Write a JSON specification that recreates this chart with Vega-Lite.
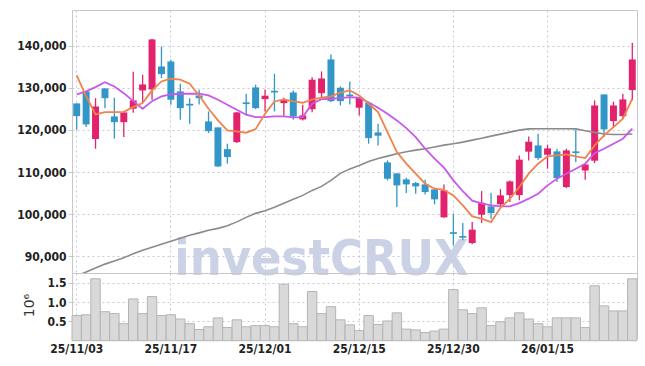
{
  "$schema": "https://vega.github.io/schema/vega-lite/v6.json",
  "padding": {"left": 5, "top": 9, "right": 9, "bottom": 5},
  "background": "white",
  "spacing": 0,
  "bounds": "flush",
  "config": {
    "font": "DejaVu Sans Condensed, Roboto",
    "view": {"stroke": "#c8c8c8"},
    "axis": {
      "labelFont": "DejaVu Sans Condensed, Roboto",
      "labelFontSize": 12,
      "labelFontWeight": "bold",
      "labelColor": "#222222",
      "gridColor": "#c6c9dc",
      "gridDash": [2, 3],
      "gridWidth": 1,
      "domainColor": "#c8c8c8",
      "tickColor": "#c8c8c8",
      "tickSize": 4,
      "labelPadding": 2
    }
  },
  "data": {
    "values": [
      {"d": "25/11/03", "o": 126300, "h": 126300, "l": 120050, "c": 123280, "v": 0.65, "ma5": 132950, "ma10": 128430, "ma60": 85300},
      {"d": "25/11/04", "o": 129150, "h": 129300, "l": 120670, "c": 121310, "v": 0.67, "ma5": 128000, "ma10": 129150, "ma60": 86230},
      {"d": "25/11/05", "o": 117820, "h": 127550, "l": 115540, "c": 125580, "v": 1.60, "ma5": 123680, "ma10": 130170, "ma60": 87180},
      {"d": "25/11/06", "o": 129860, "h": 129900, "l": 125180, "c": 127550, "v": 0.75, "ma5": 124230, "ma10": 131350, "ma60": 88110},
      {"d": "25/11/07", "o": 123210, "h": 127650, "l": 117910, "c": 121850, "v": 0.70, "ma5": 124230, "ma10": 130330, "ma60": 88840},
      {"d": "25/11/10", "o": 121850, "h": 124200, "l": 118290, "c": 124160, "v": 0.44, "ma5": 124300, "ma10": 128740, "ma60": 89600},
      {"d": "25/11/11", "o": 125040, "h": 133830, "l": 124090, "c": 127010, "v": 1.08, "ma5": 125420, "ma10": 126840, "ma60": 90550},
      {"d": "25/11/12", "o": 129380, "h": 133110, "l": 126600, "c": 130810, "v": 0.70, "ma5": 126370, "ma10": 125040, "ma60": 91380},
      {"d": "25/11/13", "o": 129620, "h": 141660, "l": 127180, "c": 141500, "v": 1.14, "ma5": 129380, "ma10": 126840, "ma60": 92100},
      {"d": "25/11/14", "o": 135080, "h": 139830, "l": 132300, "c": 133260, "v": 0.65, "ma5": 131520, "ma10": 127960, "ma60": 92810},
      {"d": "25/11/17", "o": 136270, "h": 136680, "l": 125990, "c": 127180, "v": 0.67, "ma5": 132160, "ma10": 128430, "ma60": 93520},
      {"d": "25/11/18", "o": 129150, "h": 130980, "l": 122430, "c": 125180, "v": 0.56, "ma5": 131930, "ma10": 128600, "ma60": 94240},
      {"d": "25/11/19", "o": 126200, "h": 127550, "l": 121480, "c": 125800, "v": 0.44, "ma5": 130980, "ma10": 128600, "ma60": 94950},
      {"d": "25/11/20", "o": 128200, "h": 129550, "l": 126060, "c": 127550, "v": 0.29, "ma5": 128200, "ma10": 128600, "ma60": 95540},
      {"d": "25/11/21", "o": 122020, "h": 124400, "l": 119240, "c": 119720, "v": 0.36, "ma5": 125040, "ma10": 128200, "ma60": 96140},
      {"d": "25/11/24", "o": 120600, "h": 120600, "l": 111170, "c": 111330, "v": 0.59, "ma5": 122260, "ma10": 127180, "ma60": 96610},
      {"d": "25/11/25", "o": 115440, "h": 116730, "l": 111980, "c": 113540, "v": 0.34, "ma5": 119880, "ma10": 125990, "ma60": 97250},
      {"d": "25/11/26", "o": 117100, "h": 124250, "l": 116870, "c": 124160, "v": 0.54, "ma5": 119650, "ma10": 124800, "ma60": 98150},
      {"d": "25/11/27", "o": 126550, "h": 128600, "l": 123450, "c": 126150, "v": 0.36, "ma5": 119340, "ma10": 123610, "ma60": 99220},
      {"d": "25/11/28", "o": 130100, "h": 130740, "l": 124940, "c": 125180, "v": 0.39, "ma5": 120190, "ma10": 123040, "ma60": 100170},
      {"d": "25/12/01", "o": 127320, "h": 129620, "l": 124400, "c": 128130, "v": 0.39, "ma5": 123850, "ma10": 123040, "ma60": 100770},
      {"d": "25/12/02", "o": 129300, "h": 133350, "l": 124400, "c": 128900, "v": 0.36, "ma5": 126770, "ma10": 123210, "ma60": 101600},
      {"d": "25/12/03", "o": 126370, "h": 127650, "l": 123380, "c": 127080, "v": 1.46, "ma5": 127250, "ma10": 123210, "ma60": 102550},
      {"d": "25/12/04", "o": 128910, "h": 129380, "l": 122430, "c": 123210, "v": 0.44, "ma5": 126770, "ma10": 122970, "ma60": 103500},
      {"d": "25/12/05", "o": 122500, "h": 125990, "l": 122260, "c": 123450, "v": 0.36, "ma5": 126460, "ma10": 123040, "ma60": 104450},
      {"d": "25/12/08", "o": 124940, "h": 132540, "l": 124230, "c": 131930, "v": 1.27, "ma5": 127180, "ma10": 126230, "ma60": 105630},
      {"d": "25/12/09", "o": 128740, "h": 133900, "l": 127790, "c": 132230, "v": 0.70, "ma5": 127650, "ma10": 127320, "ma60": 106580},
      {"d": "25/12/10", "o": 136750, "h": 137930, "l": 126600, "c": 126840, "v": 0.88, "ma5": 127960, "ma10": 127410, "ma60": 108010},
      {"d": "25/12/11", "o": 130030, "h": 130330, "l": 125820, "c": 126840, "v": 0.54, "ma5": 128840, "ma10": 127550, "ma60": 109670},
      {"d": "25/12/12", "o": 128400, "h": 131520, "l": 126060, "c": 128000, "v": 0.41, "ma5": 129380, "ma10": 127790, "ma60": 110740},
      {"d": "25/12/15", "o": 125280, "h": 127700, "l": 123450, "c": 127650, "v": 0.26, "ma5": 128200, "ma10": 127650, "ma60": 111570},
      {"d": "25/12/16", "o": 126460, "h": 126700, "l": 116730, "c": 118060, "v": 0.65, "ma5": 126230, "ma10": 126530, "ma60": 112520},
      {"d": "25/12/17", "o": 119410, "h": 121480, "l": 116320, "c": 118630, "v": 0.42, "ma5": 124230, "ma10": 125280, "ma60": 113230},
      {"d": "25/12/18", "o": 112280, "h": 112760, "l": 108010, "c": 108410, "v": 0.51, "ma5": 119480, "ma10": 123850, "ma60": 113780},
      {"d": "25/12/19", "o": 109670, "h": 109700, "l": 101670, "c": 106820, "v": 0.72, "ma5": 114730, "ma10": 122260, "ma60": 114350},
      {"d": "25/12/22", "o": 108250, "h": 108650, "l": 104990, "c": 107060, "v": 0.30, "ma5": 111980, "ma10": 120430, "ma60": 114820},
      {"d": "25/12/23", "o": 107370, "h": 107600, "l": 104850, "c": 106580, "v": 0.28, "ma5": 109600, "ma10": 118290, "ma60": 115200},
      {"d": "25/12/24", "o": 107060, "h": 108180, "l": 104680, "c": 105230, "v": 0.21, "ma5": 107230, "ma10": 115540, "ma60": 115540},
      {"d": "25/12/26", "o": 105870, "h": 106280, "l": 102310, "c": 103500, "v": 0.25, "ma5": 106040, "ma10": 113160, "ma60": 115960},
      {"d": "25/12/29", "o": 99220, "h": 107060, "l": 99150, "c": 105630, "v": 0.30, "ma5": 105750, "ma10": 111030, "ma60": 116390},
      {"d": "25/12/30", "o": 95700, "h": 100100, "l": 92570, "c": 95300, "v": 1.32, "ma5": 104450, "ma10": 108010, "ma60": 116720},
      {"d": "26/01/02", "o": 94800, "h": 97870, "l": 93760, "c": 94400, "v": 0.80, "ma5": 102070, "ma10": 105430, "ma60": 117100},
      {"d": "26/01/05", "o": 93120, "h": 98110, "l": 92810, "c": 96300, "v": 0.70, "ma5": 99460, "ma10": 103180, "ma60": 117580},
      {"d": "26/01/06", "o": 99860, "h": 105470, "l": 97870, "c": 102710, "v": 0.85, "ma5": 98910, "ma10": 102550, "ma60": 118030},
      {"d": "26/01/07", "o": 101830, "h": 105090, "l": 98910, "c": 100240, "v": 0.39, "ma5": 98110, "ma10": 102070, "ma60": 118530},
      {"d": "26/01/08", "o": 102310, "h": 105940, "l": 101670, "c": 104450, "v": 0.49, "ma5": 101500, "ma10": 101830, "ma60": 119000},
      {"d": "26/01/09", "o": 104520, "h": 108010, "l": 102860, "c": 107770, "v": 0.59, "ma5": 103600, "ma10": 101830, "ma60": 119480},
      {"d": "26/01/12", "o": 104520, "h": 113950, "l": 103260, "c": 112930, "v": 0.72, "ma5": 106420, "ma10": 102620, "ma60": 119950},
      {"d": "26/01/13", "o": 114830, "h": 118460, "l": 112760, "c": 117200, "v": 0.56, "ma5": 109600, "ma10": 103660, "ma60": 120240},
      {"d": "26/01/14", "o": 116320, "h": 119100, "l": 112930, "c": 113310, "v": 0.44, "ma5": 111980, "ma10": 104850, "ma60": 120290},
      {"d": "26/01/15", "o": 114110, "h": 116490, "l": 110790, "c": 115610, "v": 0.36, "ma5": 113710, "ma10": 106820, "ma60": 120290},
      {"d": "26/01/16", "o": 114900, "h": 115540, "l": 107610, "c": 108560, "v": 0.59, "ma5": 113950, "ma10": 108410, "ma60": 120290},
      {"d": "26/01/19", "o": 106420, "h": 115540, "l": 106180, "c": 115130, "v": 0.59, "ma5": 114180, "ma10": 109600, "ma60": 120290},
      {"d": "26/01/20", "o": 114900, "h": 120050, "l": 112360, "c": 114500, "v": 0.59, "ma5": 113710, "ma10": 110790, "ma60": 120240},
      {"d": "26/01/21", "o": 110380, "h": 111900, "l": 108180, "c": 111810, "v": 0.34, "ma5": 113310, "ma10": 111980, "ma60": 119810},
      {"d": "26/01/22", "o": 112690, "h": 127010, "l": 112120, "c": 125820, "v": 1.42, "ma5": 116320, "ma10": 114490, "ma60": 119410},
      {"d": "26/01/23", "o": 128430, "h": 128430, "l": 118290, "c": 120120, "v": 0.90, "ma5": 118700, "ma10": 115540, "ma60": 119050},
      {"d": "26/01/26", "o": 122090, "h": 126700, "l": 120670, "c": 125820, "v": 0.77, "ma5": 120670, "ma10": 116730, "ma60": 118930},
      {"d": "26/01/27", "o": 123280, "h": 128600, "l": 122660, "c": 127250, "v": 0.77, "ma5": 122660, "ma10": 117910, "ma60": 118930},
      {"d": "26/01/28", "o": 129460, "h": 140710, "l": 127010, "c": 136750, "v": 1.60, "ma5": 127410, "ma10": 120290, "ma60": 119050}
    ]
  },
  "vconcat": [
    {
      "width": 565,
      "height": 263,
      "encoding": {
        "x": {
          "field": "d", "type": "ordinal", "sort": null,
          "scale": {"domain": ["25/11/03","25/11/04","25/11/05","25/11/06","25/11/07","25/11/10","25/11/11","25/11/12","25/11/13","25/11/14","25/11/17","25/11/18","25/11/19","25/11/20","25/11/21","25/11/24","25/11/25","25/11/26","25/11/27","25/11/28","25/12/01","25/12/02","25/12/03","25/12/04","25/12/05","25/12/08","25/12/09","25/12/10","25/12/11","25/12/12","25/12/15","25/12/16","25/12/17","25/12/18","25/12/19","25/12/22","25/12/23","25/12/24","25/12/26","25/12/29","25/12/30","26/01/02","26/01/05","26/01/06","26/01/07","26/01/08","26/01/09","26/01/12","26/01/13","26/01/14","26/01/15","26/01/16","26/01/19","26/01/20","26/01/21","26/01/22","26/01/23","26/01/26","26/01/27","26/01/28"], "paddingInner": 0, "paddingOuter": 0},
          "axis": {"values": ["25/11/03", "25/11/17", "25/12/01", "25/12/15", "25/12/30", "26/01/15"], "labels": false, "ticks": false, "domain": false, "title": null, "grid": true}
        }
      },
      "layer": [
        {
          "data": {"values": [{"w": "investCRUX"}]},
          "mark": {"type": "text", "font": "DejaVu Sans Condensed, Roboto", "fontWeight": "bold", "fontSize": 50, "fill": "#ccd2e6", "align": "center", "baseline": "alphabetic"},
          "encoding": {
            "x": {"datum": "25/12/09", "type": "ordinal"},
            "text": {"field": "w", "type": "nominal"},
            "y": {"datum": 85450, "type": "quantitative", "scale": {"domain": [86000, 148500], "nice": false, "zero": false},
              "axis": {"values": [90000, 100000, 110000, 120000, 130000, 140000], "format": ",.0f", "title": null, "minExtent": 66, "maxExtent": 66, "grid": true}}
          }
        },
        {
          "mark": {"type": "rule", "strokeWidth": 1.3},
          "encoding": {
            "y": {"field": "l", "type": "quantitative"},
            "y2": {"field": "h"},
            "color": {"condition": {"test": "datum.c >= datum.o", "value": "#e2226c"}, "value": "#3296c8"}
          }
        },
        {
          "mark": {"type": "bar", "width": {"band": 0.74}},
          "encoding": {
            "y": {"field": "o", "type": "quantitative"},
            "y2": {"field": "c"},
            "color": {"condition": {"test": "datum.c >= datum.o", "value": "#e2226c"}, "value": "#3296c8"}
          }
        },
        {
          "mark": {"type": "line", "color": "#8a8a8a", "strokeWidth": 1.6, "clip": true},
          "encoding": {"y": {"field": "ma60", "type": "quantitative"}}
        },
        {
          "mark": {"type": "line", "color": "#c858ec", "strokeWidth": 1.8},
          "encoding": {"y": {"field": "ma10", "type": "quantitative"}}
        },
        {
          "mark": {"type": "line", "color": "#f0824c", "strokeWidth": 1.8},
          "encoding": {"y": {"field": "ma5", "type": "quantitative"}}
        }
      ]
    },
    {
      "width": 565,
      "height": 65,
      "mark": {"type": "bar", "fill": "#d9d9d9", "stroke": "#b4b4b4", "strokeWidth": 1, "width": {"band": 1}},
      "encoding": {
        "x": {
          "field": "d", "type": "ordinal", "sort": null,
          "scale": {"domain": ["25/11/03","25/11/04","25/11/05","25/11/06","25/11/07","25/11/10","25/11/11","25/11/12","25/11/13","25/11/14","25/11/17","25/11/18","25/11/19","25/11/20","25/11/21","25/11/24","25/11/25","25/11/26","25/11/27","25/11/28","25/12/01","25/12/02","25/12/03","25/12/04","25/12/05","25/12/08","25/12/09","25/12/10","25/12/11","25/12/12","25/12/15","25/12/16","25/12/17","25/12/18","25/12/19","25/12/22","25/12/23","25/12/24","25/12/26","25/12/29","25/12/30","26/01/02","26/01/05","26/01/06","26/01/07","26/01/08","26/01/09","26/01/12","26/01/13","26/01/14","26/01/15","26/01/16","26/01/19","26/01/20","26/01/21","26/01/22","26/01/23","26/01/26","26/01/27","26/01/28"], "paddingInner": 0, "paddingOuter": 0},
          "axis": {"values": ["25/11/03", "25/11/17", "25/12/01", "25/12/15", "25/12/30", "26/01/15"], "labelAngle": 0, "ticks": false, "domain": false, "title": null, "grid": true, "labelPadding": 5}
        },
        "y": {
          "field": "v", "type": "quantitative",
          "scale": {"domain": [0.07, 1.75], "nice": false, "zero": false},
          "axis": {"values": [0.5, 1, 1.5], "format": ".1f", "title": "10⁶", "titleFont": "DejaVu Sans", "titleFontWeight": "normal", "titleFontSize": 14, "titleColor": "#333333", "titleX": -36, "titleY": 32, "minExtent": 66, "maxExtent": 66, "grid": true}
        }
      }
    }
  ]
}
